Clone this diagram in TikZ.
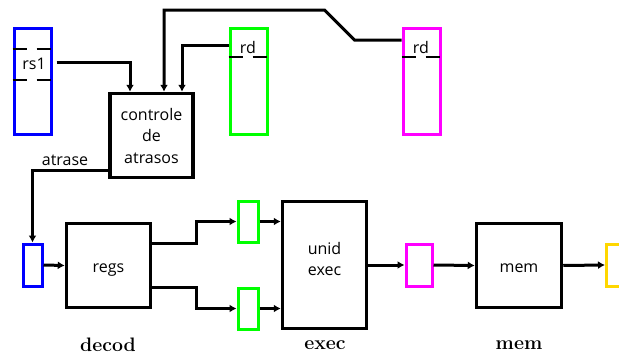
\documentclass[tikz,border=0pt]{standalone}
\usepackage{fontspec}
\newfontfamily\osans{Open Sans}
\usetikzlibrary{arrows.meta,calc}
\definecolor{cblue}{RGB}{0,0,255}
\definecolor{cgreen}{RGB}{0,255,0}
\definecolor{cmag}{RGB}{255,0,255}
\definecolor{cyel}{RGB}{255,215,0}
\begin{document}
\begin{tikzpicture}[x=1pt,y=-1pt,
  box/.style={draw,line width=3pt,inner sep=0pt,minimum width=#1},
  blk/.style={draw=black,line width=3.5pt,inner sep=0pt,minimum width=84pt,minimum height=84pt,
     font=\osans\fontsize{16}{21.5}\selectfont,align=center},
  lowtext/.style={text height=13.6pt,text depth=0pt},
  lbl/.style={inner sep=0pt,font=\osans\fontsize{16}{21.5}\selectfont},
  stage/.style={inner sep=0pt,font=\bfseries\fontsize{19.5}{22}\selectfont},
  arr/.style={line width=3pt,-{Latex[length=7pt,width=8pt]}},
  dsh/.style={line width=2.5pt,dash pattern=on 14pt off 10pt}]
\useasboundingbox (0,0) rectangle (619,356);
% top register boxes
\node[box=37pt,draw=cblue,minimum height=106pt] (rsone) at (32.5,81) {};
\node[box=37pt,draw=cgreen,minimum height=106pt] (grd) at (248.5,81) {};
\node[box=37pt,draw=cmag,minimum height=106pt] (mrd) at (421.5,81) {};
\draw[dsh] (rsone.west |- 0,49) -- (rsone.east |- 0,49);
\draw[dsh] (rsone.west |- 0,80) -- (rsone.east |- 0,80);
\draw[dsh] (grd.west |- 0,57) -- (grd.east |- 0,57);
\draw[dsh] (mrd.west |- 0,57) -- (mrd.east |- 0,57);
\node[lbl] (rstext) at (34,64) {rs1};
\node[lbl] (gtext) at (248,47) {rd};
\node[lbl] (mtext) at (421,47) {rd};
% controle
\node[blk,minimum width=83pt] (ctrl) at (151.5,135.5) {controle\\de\\atrasos};
% pipeline
\node[box=19pt,draw=cblue,minimum height=42pt] (sblue) at (32.5,265) {};
\node[blk,lowtext] (regs) at (108.5,265.5) {regs};
\node[box=20pt,draw=cgreen,minimum height=41pt] (gone) at (248,221.5) {};
\node[box=20pt,draw=cgreen,minimum height=41pt] (gtwo) at (248,308.5) {};
\node[blk,minimum height=127pt] (exec) at (324.5,265) {};
\node[lbl,align=center] (exectext) at (324.5,259) {unid\\exec};
\node[box=26pt,draw=cmag,minimum height=42pt] (smag) at (419,265) {};
\node[blk,lowtext,minimum width=85pt] (mem) at (519,265.5) {mem};
\node[box=26pt,draw=cyel,minimum height=42pt] (syel) at (619.5,265) {};
% stage labels
\node[stage] (ldecod) at (108,345) {decod};
\node[stage] (lexec) at (325,345) {exec};
\node[stage] (lmem) at (519,345) {mem};
% connectors
\draw[arr] ([shift={(4,-19)}]rsone.east) -| ([xshift=-21.5]ctrl.north);
\draw[arr] ([shift={(0,-41)}]mrd.west) -- ++(-47,0) -- ++(-30,-30) -| ([xshift=12.5]ctrl.north);
\draw[arr] ([shift={(0,-36)}]grd.west) -| ([xshift=30.5]ctrl.north);
\draw[arr] ([shift={(0,34.5)}]ctrl.west) -| (sblue.north);
\node[lbl,anchor=base] (atr) at (65,165) {atrase};
\draw[arr] (sblue.east) -- (regs.west);
\draw[arr] ([shift={(0,-22.5)}]regs.east) -- ++(44.5,0) |- (gone.west);
\draw[arr] ([shift={(0,22)}]regs.east) -- ++(44.5,0) |- (gtwo.west);
\draw[arr] (gone.east) -- (gone.east -| exec.west);
\draw[arr] (gtwo.east) -- (gtwo.east -| exec.west);
\draw[arr] (exec.east) -- (smag.west);
\draw[arr] (smag.east) -- (mem.west);
\draw[arr] (mem.east) -- (syel.west);
\end{tikzpicture}
\end{document}
